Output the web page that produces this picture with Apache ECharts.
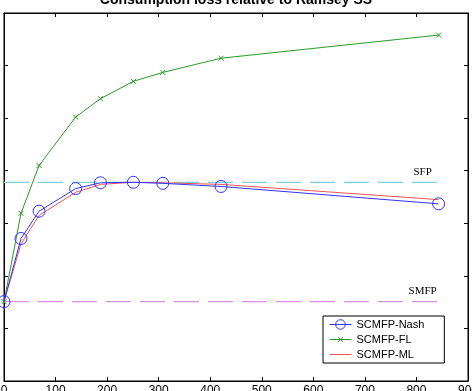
<!DOCTYPE html>
<html>
<head>
<meta charset="utf-8">
<script src="https://cdn.jsdelivr.net/npm/echarts@6/dist/echarts.min.js"></script>
<style>
  html, body { margin: 0; padding: 0; background: #fff; }
  #chart { width: 472px; height: 391px; }
</style>
</head>
<body>
<div id="chart"></div>
<script>
// data
const xs = [0, 33, 68, 139, 187, 251, 308, 421, 843];
const nash = [1.51, 2.71, 3.23, 3.66, 3.77, 3.78, 3.76, 3.70, 3.37];
const fl = [1.51, 3.19, 4.10, 5.02, 5.37, 5.70, 5.87, 6.14, 6.58];
const ml = [1.51, 2.61, 3.15, 3.59, 3.74, 3.78, 3.77, 3.74, 3.45];
const sfpLevel = 3.78;
const smfpLevel = 1.51;
const xTicks = [0, 100, 200, 300, 400, 500, 600, 700, 800, 900];

const pair = (arr) => xs.map((x, i) => [x, arr[i]]);
const hline = (v) => [[xs[0], v], [xs[xs.length - 1], v]];

const blue = '#3333ff', green = '#2a9a2a', red = '#ee5555';
// cross padded inside a bigger box so it draws at half the symbol size
const crossPath = 'path://M-5,-5L-5,-5M0,0L10,10M10,0L0,10M15,15L15,15';

const chart = echarts.init(document.getElementById('chart'));

const axisCommon = {
  axisLine: { show: true, onZero: false, lineStyle: { color: '#000', width: 1 } },
  axisTick: { show: true, inside: true, length: 4, lineStyle: { color: '#000' } },
  splitLine: { show: false },
};

chart.setOption({
  animation: false,
  backgroundColor: '#fff',
  title: {
    text: 'Consumption loss relative to Ramsey SS',
    left: 'center',
    top: -12,
    textStyle: { fontFamily: 'Liberation Sans', fontSize: 14, fontWeight: 'bold', color: '#000' },
  },
  grid: {
    left: 4, right: 4, top: 13, bottom: 10, outerBoundsMode: 'none', containLabel: false,
    show: true, borderColor: '#000', borderWidth: 1, backgroundColor: 'transparent',
  },
  xAxis: [
    {
      ...axisCommon,
      type: 'value', min: 0, max: 900, interval: 100, position: 'bottom',
      axisLabel: {
        show: true, margin: 4, color: '#000', fontSize: 12, fontFamily: 'Liberation Sans',
        formatter: (v) => (xTicks.includes(v) ? String(v) : ''),
      },
    },
    {
      ...axisCommon,
      type: 'value', min: 0, max: 900, interval: 100, position: 'top',
      axisLabel: { show: false },
    },
  ],
  yAxis: [
    { ...axisCommon, type: 'value', min: 0, max: 7, interval: 1, position: 'left', axisLabel: { show: false } },
    { ...axisCommon, type: 'value', min: 0, max: 7, interval: 1, position: 'right', axisLabel: { show: false } },
  ],
  legend: {
    orient: 'vertical',
    left: 323,
    top: 316,
    width: 113,
    padding: [3, 20, 3, 6],
    itemGap: 4,
    itemWidth: 22,
    itemHeight: 12,
    borderColor: '#000',
    borderWidth: 1,
    borderRadius: 0,
    backgroundColor: '#fff',
    lineStyle: { width: 1 },
    textStyle: { fontFamily: 'Liberation Sans', fontSize: 11, color: '#000' },
    data: [
      { name: 'SCMFP-Nash', itemStyle: { color: 'rgba(0,0,0,0)', borderColor: blue, borderWidth: 1 } },
      { name: 'SCMFP-FL', itemStyle: { color: green, borderColor: green, borderWidth: 1 } },
      { name: 'SCMFP-ML', itemStyle: { opacity: 0 } },
    ],
  },
  series: [
    {
      name: 'SFP', type: 'line', data: hline(sfpLevel), symbol: 'none', silent: true,
      lineStyle: { color: '#80d0d8', width: 1.2, type: [25, 9] },
    },
    {
      name: 'SMFP', type: 'line', data: hline(smfpLevel), symbol: 'none', silent: true,
      lineStyle: { color: '#d890e0', width: 1.2, type: [25, 9] },
    },
    {
      name: 'SCMFP-ML', type: 'line', data: pair(ml), symbol: 'none', z: 3,
      lineStyle: { color: red, width: 1 },
      itemStyle: { color: red },
    },
    {
      name: 'SCMFP-FL', type: 'line', data: pair(fl), z: 4,
      symbol: crossPath, symbolSize: 10,
      lineStyle: { color: green, width: 1 },
      itemStyle: { color: green, borderColor: green, borderWidth: 1 },
    },
    {
      name: 'SCMFP-Nash', type: 'line', data: pair(nash), z: 5,
      symbol: 'circle', symbolSize: 12,
      lineStyle: { color: blue, width: 1 },
      itemStyle: { color: 'rgba(0,0,0,0)', borderColor: blue, borderWidth: 1 },
    },
  ],
});

// SFP / SMFP text labels placed through the axis scales
const labelAt = (text, x, y) => {
  const p = chart.convertToPixel({ xAxisIndex: 0, yAxisIndex: 0 }, [x, y]);
  return {
    type: 'text', x: p[0] - 16, y: p[1] - 5,
    style: { text, fill: '#000', font: '11px "Liberation Serif"', align: 'center', verticalAlign: 'bottom' },
  };
};
chart.setOption({
  graphic: [
    labelAt('SFP', xs[xs.length - 1], sfpLevel),
    labelAt('SMFP', xs[xs.length - 1], smfpLevel),
  ],
});
</script>
</body>
</html>
